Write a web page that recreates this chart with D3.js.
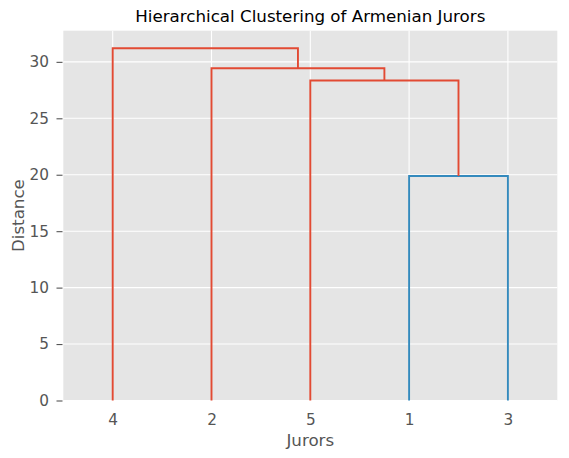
<!DOCTYPE html>
<html>
<head>
<meta charset="utf-8">
<script src="https://cdn.jsdelivr.net/npm/d3@7"></script>
<style>
  body { margin: 0; background: #fff; }
  svg text { font-family: "DejaVu Sans", sans-serif; }
</style>
</head>
<body>
<svg id="chart" width="569" height="458"></svg>
<script>
// Leaf order as drawn (left to right)
const leafLabels = ["4", "2", "5", "1", "3"];
// Merges: children are leaf labels or merge ids "m0".."m3"
const mergeLeft = ["1", "5", "2", "4"];
const mergeRight = ["3", "m0", "m1", "m2"];
const mergeHeights = [19.89, 28.35, 29.43, 31.2];
const mergeColors = ["#348ABD", "#E24A33", "#E24A33", "#E24A33"];
const yTicks = [0, 5, 10, 15, 20, 25, 30];

const svg = d3.select("#chart");
const M = { left: 63.3, right: 557.3, top: 30.7, bottom: 400.5 };

const x = d3.scaleLinear().domain([0, 50]).range([M.left, M.right]);
const yMax = d3.max(mergeHeights) * 1.05;
const y = d3.scaleLinear().domain([0, yMax]).range([M.bottom, M.top]);

// background
svg.append("rect").attr("x", M.left).attr("y", M.top)
  .attr("width", M.right - M.left).attr("height", M.bottom - M.top)
  .attr("fill", "#E5E5E5");

const leafPos = leafLabels.map((d, i) => 5 + 10 * i);

// grid
svg.append("g").selectAll("line.gx").data(leafPos).join("line")
  .attr("x1", d => x(d)).attr("x2", d => x(d))
  .attr("y1", M.top).attr("y2", M.bottom)
  .attr("stroke", "#fff").attr("stroke-width", 1.1);
svg.append("g").selectAll("line.gy").data(yTicks).join("line")
  .attr("x1", M.left).attr("x2", M.right)
  .attr("y1", d => y(d)).attr("y2", d => y(d))
  .attr("stroke", "#fff").attr("stroke-width", 1.1);

// compute node positions
const pos = {};
leafLabels.forEach((l, i) => pos[l] = { x: leafPos[i], h: 0 });
const links = [];
mergeHeights.forEach((h, i) => {
  const a = pos[mergeLeft[i]], b = pos[mergeRight[i]];
  const lx = a.x <= b.x ? a : b;
  const rx = lx === a ? b : a;
  links.push({ pts: [[lx.x, lx.h], [lx.x, h], [rx.x, h], [rx.x, rx.h]], color: mergeColors[i] });
  pos["m" + i] = { x: (a.x + b.x) / 2, h: h };
});

const line = d3.line().x(d => x(d[0])).y(d => y(d[1]));
svg.append("g").selectAll("path").data(links).join("path")
  .attr("d", d => line(d.pts))
  .attr("fill", "none")
  .attr("stroke", d => d.color)
  .attr("stroke-width", 1.9);

// y axis
const yAxis = d3.axisLeft(y).tickValues(yTicks).tickSize(6).tickPadding(7.5);
const gy = svg.append("g").attr("transform", `translate(${M.left - 0.8},0)`).call(yAxis);
gy.select(".domain").remove();
gy.selectAll(".tick line").attr("stroke", "#555").attr("stroke-width", 1.1);
gy.selectAll(".tick text").attr("fill", "#555").attr("font-size", "15.3px")
  .style("font-family", "DejaVu Sans, sans-serif");

// x axis
const xAxis = d3.axisBottom(x).tickValues(leafPos)
  .tickFormat((d, i) => leafLabels[i]).tickSize(0).tickPadding(13.6);
const gx = svg.append("g").attr("transform", `translate(0,${M.bottom})`).call(xAxis);
gx.select(".domain").remove();
gx.selectAll(".tick text").attr("fill", "#555").attr("font-size", "15.3px")
  .style("font-family", "DejaVu Sans, sans-serif");

// labels
svg.append("text").attr("x", (M.left + M.right) / 2).attr("y", 445.5)
  .attr("text-anchor", "middle").attr("fill", "#555").attr("font-size", "16.7px")
  .text("Jurors");
svg.append("text").attr("transform", `translate(23.5,${(M.top + M.bottom) / 2}) rotate(-90)`)
  .attr("text-anchor", "middle").attr("fill", "#555").attr("font-size", "16.7px")
  .text("Distance");
svg.append("text").attr("x", (M.left + M.right) / 2).attr("y", 22)
  .attr("text-anchor", "middle").attr("fill", "#000").attr("font-size", "16.7px")
  .text("Hierarchical Clustering of Armenian Jurors");
</script>
</body>
</html>
